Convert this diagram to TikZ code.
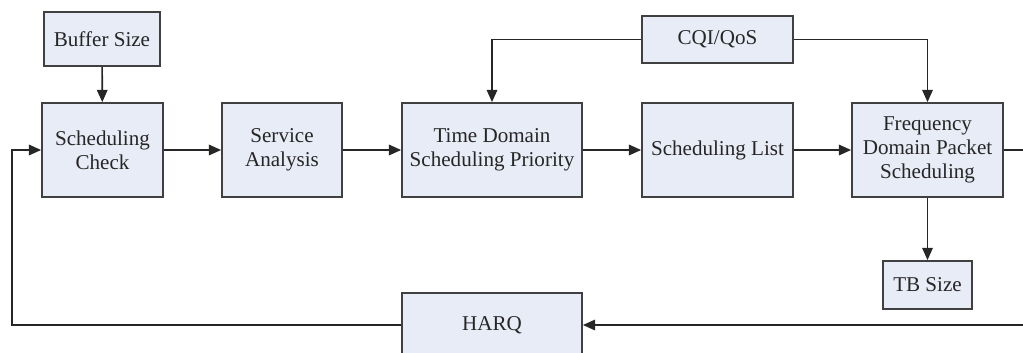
\documentclass[tikz,border=0pt]{standalone}
\usepackage{fontspec}
\setmainfont{Liberation Serif}
\usetikzlibrary{arrows.meta,shadows}
\begin{document}
\begin{tikzpicture}[x=0.02cm,y=-0.02cm,
  box/.style={draw=black!75, line width=1pt, fill={rgb,255:red,232;green,236;blue,246},
    align=center, inner sep=1pt, text=black!85, font=\fontsize{12}{13.5}\selectfont,
    drop shadow={shadow xshift=0.6pt, shadow yshift=-0.6pt, opacity=0.35}},
  conn/.style={line width=0.95pt, black!85},
  arr/.style={conn, -{Triangle[length=7pt,width=6pt]}}]
\useasboundingbox (0,0) rectangle (1023,352);
\node[box, minimum width=2.32cm, minimum height=1.08cm] (buf) at (102,39) {Buffer Size};
\node[box, minimum width=2.42cm, minimum height=1.88cm] (chk) at (102.5,150) {Scheduling\\Check};
\node[box, minimum width=2.40cm, minimum height=1.88cm] (svc) at (282,150) {Service\\Analysis};
\node[box, minimum width=3.60cm, minimum height=1.88cm] (tds) at (492,150) {Time Domain\\Scheduling Priority};
\node[box, minimum width=3.02cm, minimum height=1.88cm] (lst) at (717.5,150) {Scheduling List};
\node[box, minimum width=3.02cm, minimum height=1.88cm] (fdp) at (927.5,150) {Frequency\\Domain Packet\\Scheduling};
\node[box, minimum width=3.02cm, minimum height=0.94cm] (cqi) at (717.5,39.5) {CQI/QoS};
\node[box, minimum width=1.78cm, minimum height=0.96cm] (tb) at (927.5,285) {TB Size};
\node[box, minimum width=3.60cm, minimum height=1.28cm] (harq) at (492,325) {HARQ};
\coordinate (outR) at (1023,150);
\coordinate (inR) at (1023,325);
\coordinate (lb) at (12,325);
\coordinate (lt) at (12,150);
\draw[arr] (buf) -- (chk);
\draw[arr] (chk) -- (svc);
\draw[arr] (svc) -- (tds);
\draw[arr] (tds) -- (lst);
\draw[arr] (lst) -- (fdp);
\draw[arr] (cqi.west) -| (tds.north);
\draw[arr] (cqi.east) -| (fdp.north);
\draw[arr] (fdp) -- (tb);
\draw[conn] (fdp.east) -- (outR);
\draw[arr] (inR) -- (harq.east);
\draw[arr] (harq.west) -- (lb) -- (lt) -- (chk.west);
\end{tikzpicture}
\end{document}
